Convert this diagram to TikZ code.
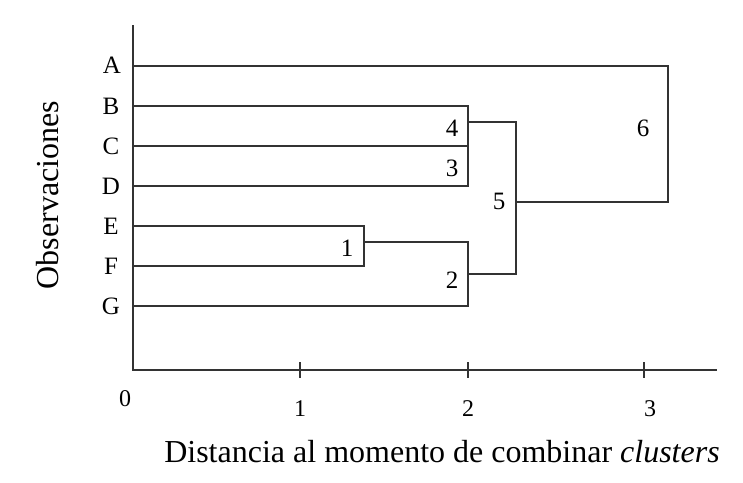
\documentclass[tikz,border=0pt]{standalone}
\usepackage{fontspec}
\setmainfont{Liberation Serif}
\usetikzlibrary{positioning}
\tikzset{
link/.style={draw=black!80, line width=1.3pt}, % branches of the tree
axis/.style={draw=black!80, line width=1.3pt},
leaf/.style={font=\fontsize{25}{29}\selectfont, inner sep=0pt}, % names of the observations
joinlabel/.style={font=\fontsize{25}{29}\selectfont, inner sep=0pt}, % order of each merge
ticklabel/.style={font=\fontsize{24}{28}\selectfont, inner sep=0pt},
axistitle/.style={font=\fontsize{32}{37}\selectfont, inner sep=0pt}
}

\begin{document}
\begin{tikzpicture}[x=1pt,y=-1pt]
    \useasboundingbox (0,0) rectangle (743,482);
    % observations
    \node[leaf] (A) at (112,65) {A};
    \node[leaf] (B) at (111,106) {B};
    \node[leaf] (C) at (111,146) {C};
    \node[leaf] (D) at (111,186) {D};
    \node[leaf] (E) at (111,226) {E};
    \node[leaf] (F) at (111,266) {F};
    \node[leaf] (G) at (111,306) {G};
    \coordinate (oA) at (133,66);
    \coordinate (oB) at (133,106);
    \coordinate (oC) at (133,146);
    \coordinate (oD) at (133,186);
    \coordinate (oE) at (133,226);
    \coordinate (oF) at (133,266);
    \coordinate (oG) at (133,306);
    % merges
    \coordinate (m1) at (364,242);
    \coordinate (m2) at (468,274);
    \coordinate (m3) at (468,166);
    \coordinate (m4) at (468,122);
    \coordinate (m5) at (516,202);
    \coordinate (m6) at (668,134);
    \draw[link] (oE) -- (oE -| m1) -- (oF -| m1) -- (oF);
    \draw[link] (m1) -- (m1 -| m2) -- (oG -| m2) -- (oG);
    \draw[link] (oC) -- (oC -| m3) -- (oD -| m3) -- (oD);
    \draw[link] (oB) -- (oB -| m4) -- (m3);
    \draw[link] (m4) -- (m4 -| m5) -- (m2 -| m5) -- (m2);
    \draw[link] (oA) -- (oA -| m6) -- (m5 -| m6) -- (m5);
    \node[joinlabel] (n1) at (347,248) {1};
    \node[joinlabel] (n2) at (452,280) {2};
    \node[joinlabel] (n3) at (452,168) {3};
    \node[joinlabel] (n4) at (452,128) {4};
    \node[joinlabel] (n5) at (499,201) {5};
    \node[joinlabel] (n6) at (643,128) {6};
    % axes
    \coordinate (top) at (133,25);
    \coordinate (origin) at (133,370);
    \coordinate (right) at (717,370);
    \draw[axis] (top) -- (origin) -- (right);
    \draw[axis] (300,362) -- (300,378);
    \draw[axis] (468,362) -- (468,378);
    \draw[axis] (644,362) -- (644,378);
    \node[ticklabel] (t0) at (125,399) {0};
    \node[ticklabel] (t1) at (300,409) {1};
    \node[ticklabel] (t2) at (468,409) {2};
    \node[ticklabel] (t3) at (650,409) {3};
    \node[axistitle] (xtitle) at (442,452) {Distancia al momento de combinar \textit{clusters}};
    \node[axistitle, rotate=90] (ytitle) at (48,195) {Observaciones};
\end{tikzpicture}
\end{document}
